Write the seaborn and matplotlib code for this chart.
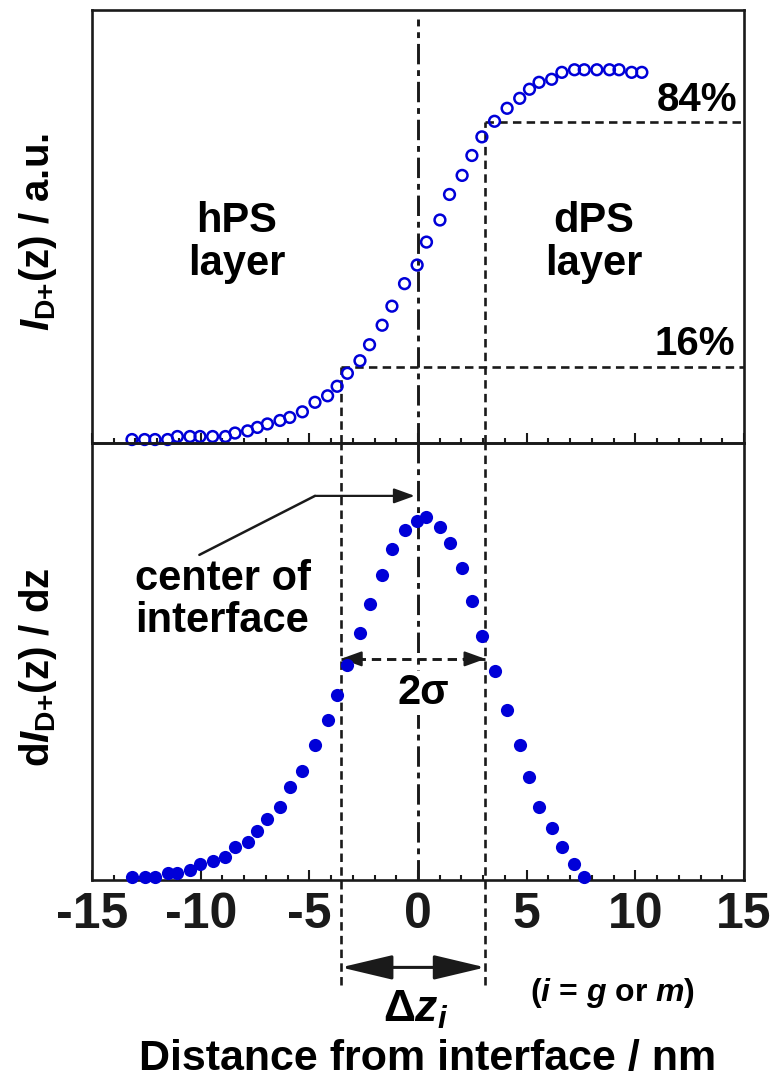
import matplotlib
matplotlib.use('Agg')
import matplotlib.pyplot as plt
import seaborn as sns
from matplotlib.ticker import MultipleLocator

# ---- data ----
z_top = [-13.16, -12.58, -12.10, -11.52, -11.07, -10.49, -10.03, -9.45, -8.86, -8.42,
         -7.84, -7.39, -6.93, -6.35, -5.90, -5.32, -4.74, -4.16, -3.72, -3.25,
         -2.67, -2.23, -1.65, -1.20, -0.62, -0.04, 0.39, 1.01, 1.45, 2.03,
         2.48, 2.94, 3.52, 4.10, 4.68, 5.13, 5.57, 6.15, 6.62, 7.20,
         7.65, 8.23, 8.81, 9.25, 9.83, 10.30]
intensity = [0.8, 0.8, 0.8, 0.8, 1.5, 1.5, 1.5, 1.5, 1.5, 2.3,
             2.8, 3.6, 4.4, 5.2, 5.9, 7.2, 9.4, 10.9, 13.1, 16.1,
             19.0, 22.7, 27.2, 31.6, 36.8, 41.1, 46.4, 51.5, 57.4, 61.8,
             66.4, 70.7, 74.3, 77.3, 79.6, 81.7, 83.3, 84.0, 85.6, 86.2,
             86.2, 86.2, 86.2, 86.2, 85.6, 85.6]
z_bot = [-13.16, -12.58, -12.10, -11.52, -11.07, -10.49, -10.03, -9.45, -8.86, -8.42,
         -7.84, -7.39, -6.93, -6.35, -5.90, -5.32, -4.74, -4.16, -3.72, -3.25,
         -2.67, -2.23, -1.65, -1.20, -0.62, -0.04, 0.39, 1.01, 1.45, 2.03,
         2.48, 2.94, 3.52, 4.10, 4.68, 5.13, 5.57, 6.15, 6.62, 7.20, 7.65]
derivative = [0.8, 0.8, 0.8, 1.5, 1.5, 2.3, 3.7, 4.4, 5.2, 7.5,
              8.8, 11.1, 13.9, 16.8, 21.3, 24.9, 30.8, 36.7, 42.4, 49.2,
              56.6, 63.2, 69.7, 75.7, 80.1, 82.2, 83.0, 80.8, 77.1, 71.3,
              63.8, 55.8, 47.8, 38.8, 30.8, 23.6, 16.8, 11.9, 7.5, 3.7, 0.8]
xticks = [-15, -10, -5, 0, 5, 10, 15]
z_16, z_84 = -3.55, 3.1
level_16, level_84 = 17.6, 74.2
sigma_y = 50.6

sns.set_theme(style='white')
plt.rcParams['font.family'] = ['Liberation Sans', 'DejaVu Sans']
plt.rcParams['font.weight'] = 'bold'
plt.rcParams['mathtext.fontset'] = 'custom'
plt.rcParams['mathtext.rm'] = 'Liberation Sans:bold'
plt.rcParams['mathtext.it'] = 'Liberation Sans:italic:bold'
plt.rcParams['mathtext.bf'] = 'Liberation Sans:bold'
plt.rcParams['axes.unicode_minus'] = False
plt.rcParams['text.color'] = 'black'
plt.rcParams['axes.labelcolor'] = 'black'
plt.rcParams['xtick.color'] = 'black'

blue = '#0000d8'
W, H = 779, 1079
fig = plt.figure(figsize=(W / 100, H / 100), dpi=100)
ax1 = fig.add_axes([92 / W, 1 - 443 / H, 652 / W, 433 / H])
ax2 = fig.add_axes([92 / W, 1 - 880 / H, 652 / W, 437 / H])

sns.scatterplot(x=z_top, y=intensity, ax=ax1, s=60, marker='o', facecolor='none',
                edgecolor=blue, linewidth=1.8, clip_on=False, zorder=4)
sns.scatterplot(x=z_bot, y=derivative, ax=ax2, s=90, marker='o', color=blue,
                edgecolor=blue, linewidth=0, clip_on=False, zorder=4)

for ax in (ax1, ax2):
    ax.set_xlim(-15, 15)
    ax.set_ylim(0, 100)
    ax.set_yticks([])
    ax.set_xticks(xticks)
    ax.xaxis.set_minor_locator(MultipleLocator(1))
    ax.tick_params(axis='x', which='both', direction='in', bottom=True, top=False,
                   width=1.5, color='k')
    ax.tick_params(axis='x', which='major', length=7)
    ax.tick_params(axis='x', which='minor', length=3.5)
    for sp in ax.spines.values():
        sp.set_visible(True)
        sp.set_color('k')
        sp.set_linewidth(1.9)
    ax.set_facecolor('none')

ax1.tick_params(axis='x', labelbottom=False)
ax2.tick_params(axis='x', labelsize=36, pad=9, labelcolor='k')
for lab in ax2.get_xticklabels():
    lab.set_fontweight('bold')

dashdot = (0, (7, 2, 2, 2))
ax1.axvline(0, ymax=0.98, color='k', lw=2.1, linestyle=dashdot, zorder=2)
ax2.axvline(0, color='k', lw=2.1, linestyle=dashdot, zorder=2)

dash = (0, (3.2, 2.0))
dlw = 1.9
ax1.plot([z_16, z_16], [0, level_16], color='k', lw=dlw, linestyle=dash)
ax1.plot([z_84, z_84], [0, level_84], color='k', lw=dlw, linestyle=dash)
ax1.plot([z_16, 15], [level_16, level_16], color='k', lw=dlw, linestyle=dash)
ax1.plot([z_84, 15], [level_84, level_84], color='k', lw=dlw, linestyle=dash)
tr = ax2.get_xaxis_transform()
for zz in (z_16, z_84):
    ax2.plot([zz, zz], [-0.24, 1], color='k', lw=dlw, linestyle=dash,
             transform=tr, clip_on=False)

# texts in top panel
ax1.text(-8.33, 46.4, 'hPS\nlayer', ha='center', va='center', fontsize=30,
         fontweight='bold', linespacing=1.1)
ax1.text(8.08, 46.4, 'dPS\nlayer', ha='center', va='center', fontsize=30,
         fontweight='bold', linespacing=1.1)
ax1.text(14.68, 79.2, '84%', ha='right', va='center', fontsize=29, fontweight='bold')
ax1.text(14.59, 22.8, '16%', ha='right', va='center', fontsize=29, fontweight='bold')

# bottom panel annotations
head_small = dict(arrowstyle='-|>, head_length=0.36, head_width=0.13',
                  lw=1.6, color='k', shrinkA=0, shrinkB=0, mutation_scale=35)
ax2.plot([-10.06, -4.74], [74.4, 87.9], color='k', lw=1.8)
ax2.annotate('', xy=(-0.15, 87.9), xytext=(-4.74, 87.9), arrowprops=head_small)
ax2.text(-13.02, 64.1, 'center of\ninterface', ha='left', va='center', fontsize=30,
         fontweight='bold', linespacing=1.05)

ax2.plot([z_16, z_84], [sigma_y, sigma_y], color='k', lw=2.1, linestyle=dash)
ax2.annotate('', xy=(z_16, sigma_y), xytext=(z_16 + 1.0, sigma_y), arrowprops=head_small)
ax2.annotate('', xy=(z_84, sigma_y), xytext=(z_84 - 1.0, sigma_y), arrowprops=head_small)
ax2.text(0.23, 42.8, '2σ', ha='center', va='center', fontsize=30, fontweight='bold',
         zorder=5, bbox=dict(fc='white', ec='none', pad=1.5))

# below the axes
ax2.annotate('', xy=(z_84, -0.2), xytext=(z_16, -0.2), xycoords=tr, textcoords=tr,
             annotation_clip=False,
             arrowprops=dict(arrowstyle='<|-|>, head_length=1.6, head_width=0.38',
                             lw=2.2, color='k', shrinkA=0, shrinkB=0,
                             mutation_scale=20))
ax2.text(-0.1, -0.297, r'$\Delta z_i$', transform=tr, ha='center', va='center',
         fontsize=32)
ax2.text(8.97, -0.259, r'($i$ = $g$ or $m$)', transform=tr, ha='center', va='center',
         fontsize=23, fontweight='bold')

ax2.set_xlabel('Distance from interface / nm', fontsize=31, fontweight='bold')
ax2.xaxis.set_label_coords(0.514, -0.435)
ax2.xaxis.label.set_va('baseline')

ax1.set_ylabel(r'$I_{\mathrm{D}{+}}$(z) / a.u.', fontsize=29, fontweight='bold')
ax1.yaxis.set_label_coords(-0.083, 0.487)
ax1.yaxis.label.set_va('center')
ax2.set_ylabel(r'd$I_{\mathrm{D}{+}}$(z) / dz', fontsize=29, fontweight='bold')
ax2.yaxis.set_label_coords(-0.083, 0.487)
ax2.yaxis.label.set_va('center')

fig.savefig('out.png', dpi=100, facecolor='white')
